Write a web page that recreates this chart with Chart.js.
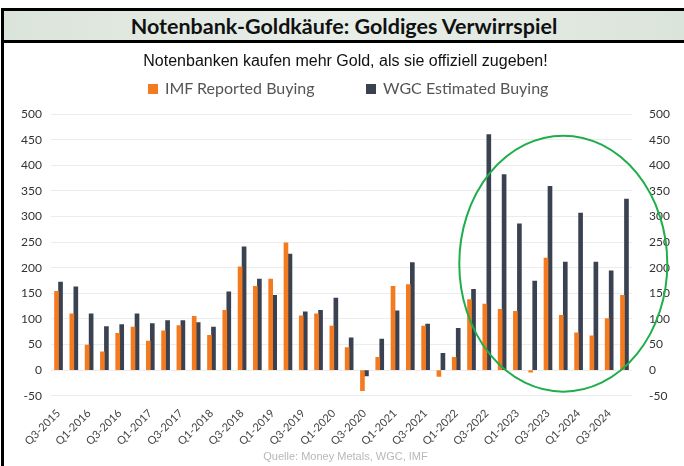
<!DOCTYPE html>
<html>
<head>
<meta charset="utf-8">
<script src="https://cdn.jsdelivr.net/npm/chart.js@4.4.1/dist/chart.umd.min.js"></script>
<style>
	html, body { margin: 0; padding: 0; background: #fff; overflow: hidden; }
	#frame {
		position: absolute; left: 1px; top: 8px; width: 683px; height: 470px;
		border-top: 3px solid #000; border-left: 3px solid #000;
	}
	#head {
		height: 27px; padding-top: 2px; line-height: 29px; text-align: center;
		background: linear-gradient(90deg, #dbe4db, #e8eee8 50%, #dbe4db);
		border-bottom: 3px solid #000; border-right: 3px solid #000;
		font: bold 21.5px Lato, sans-serif; color: #111;
	}
	#wrap { position: absolute; left: 0px; top: 32px; width: 680px; height: 423px; }
	.key { position: absolute; top: 67px; font: 16px Lato, sans-serif; color: #555; white-space: nowrap; }
	.key i { display: inline-block; width: 10px; height: 10px; margin-right: 7px; vertical-align: 0px; }
</style>
</head>
<body>
<div id="frame">
	<div id="head">Notenbank-Goldkäufe: Goldiges Verwirrspiel</div>
	<div id="wrap"><canvas id="myChart"></canvas></div>
	<div class="key" style="left:144px"><i style="background:#f47a20"></i>IMF Reported Buying</div>
	<div class="key" style="left:362px"><i style="background:#3a4150"></i>WGC Estimated Buying</div>
</div>
<script>
'use strict';

var quarters = ['Q3-2015', 'Q4-2015', 'Q1-2016', 'Q2-2016', 'Q3-2016', 'Q4-2016', 'Q1-2017', 'Q2-2017',
	'Q3-2017', 'Q4-2017', 'Q1-2018', 'Q2-2018', 'Q3-2018', 'Q4-2018', 'Q1-2019', 'Q2-2019',
	'Q3-2019', 'Q4-2019', 'Q1-2020', 'Q2-2020', 'Q3-2020', 'Q4-2020', 'Q1-2021', 'Q2-2021',
	'Q3-2021', 'Q4-2021', 'Q1-2022', 'Q2-2022', 'Q3-2022', 'Q4-2022', 'Q1-2023', 'Q2-2023',
	'Q3-2023', 'Q4-2023', 'Q1-2024', 'Q2-2024', 'Q3-2024', 'Q4-2024'];
var imfReported = [154, 110, 49, 36, 72, 84, 57, 77, 87, 105, 68, 117, 202, 164, 178, 249, 106, 110, 86,
	44, -40, 25, 164, 167, 86, -12, 25, 138, 129, 119, 115, -4, 219, 107, 73, 67, 101, 146];
var wgcEstimated = [172, 163, 110, 85, 89, 110, 91, 97, 97, 93, 84, 153, 241, 178, 146, 227, 114, 117, 141,
	63, -11, 61, 116, 210, 90, 33, 82, 158, 460, 382, 286, 174, 359, 211, 307, 211, 194, 334];
var yTicks = [-50, 0, 50, 100, 150, 200, 250, 300, 350, 400, 450, 500];

var orange = '#f47a20';
var slate = '#3a4150';

// green ellipse round the last quarters, placed in data units
var ring = {
	id: 'ring',
	afterDatasetsDraw: function (chart) {
		var x = chart.scales.x, y = chart.scales.y;
		var step = x.getPixelForValue(1) - x.getPixelForValue(0);
		var cx = x.getPixelForValue(33);
		var cy = y.getPixelForValue(208);
		var rx = step * 6.8;
		var ry = y.getPixelForValue(0) - y.getPixelForValue(250);
		var ctx = chart.ctx;
		ctx.save();
		ctx.strokeStyle = '#1fae4b';
		ctx.lineWidth = 2;
		ctx.beginPath();
		ctx.ellipse(cx, cy, rx, ry, 0, 0, Math.PI * 2);
		ctx.stroke();
		ctx.restore();
	}
};

var axisTicks = {
	color: '#333',
	font: { family: 'Lato, sans-serif', size: 12 },
	padding: 9,
	stepSize: 50
};

var ctx = document.getElementById('myChart').getContext('2d');
var myChart = new Chart(ctx, {
	type: 'bar',
	data: {
		labels: quarters,
		datasets: [{
			label: 'IMF Reported Buying',
			data: imfReported,
			backgroundColor: orange,
			barThickness: 4
		}, {
			label: 'WGC Estimated Buying',
			data: wgcEstimated,
			backgroundColor: slate,
			barThickness: 4
		}]
	},
	options: {
		responsive: true,
		maintainAspectRatio: false,
		animation: false,
		layout: { padding: { left: 8, right: 5, top: 0, bottom: 0 } },
		plugins: {
			title: {
				display: true,
				text: 'Notenbanken kaufen mehr Gold, als sie offiziell zugeben!',
				color: '#111',
				font: { family: 'Liberation Sans, Arial, sans-serif', size: 16, weight: 'normal' },
				padding: { top: 9, bottom: 43 }
			},
			subtitle: {
				display: true,
				position: 'bottom',
				text: 'Quelle: Money Metals, WGC, IMF',
				color: '#b8b8b8',
				font: { family: 'Liberation Sans, Arial, sans-serif', size: 11 },
				padding: { top: 0, bottom: 2 }
			},
			legend: { display: false },
			tooltip: { enabled: false }
		},
		scales: {
			x: {
				grid: { display: false },
				border: { display: false },
				ticks: {
					autoSkip: false,
					maxRotation: 45,
					minRotation: 45,
					color: '#444',
					font: { family: 'Lato, sans-serif', size: 11 },
					callback: function (v, i) { return i % 2 === 0 ? quarters[i] : ''; }
				}
			},
			y: {
				min: -50, max: 500,
				grid: { color: '#ececec', drawTicks: false },
				border: { display: false },
				ticks: axisTicks
			},
			y2: {
				position: 'right',
				min: -50, max: 500,
				grid: { display: false },
				border: { display: false },
				ticks: axisTicks
			}
		}
	},
	plugins: [ring]
});
</script>
</body>
</html>
